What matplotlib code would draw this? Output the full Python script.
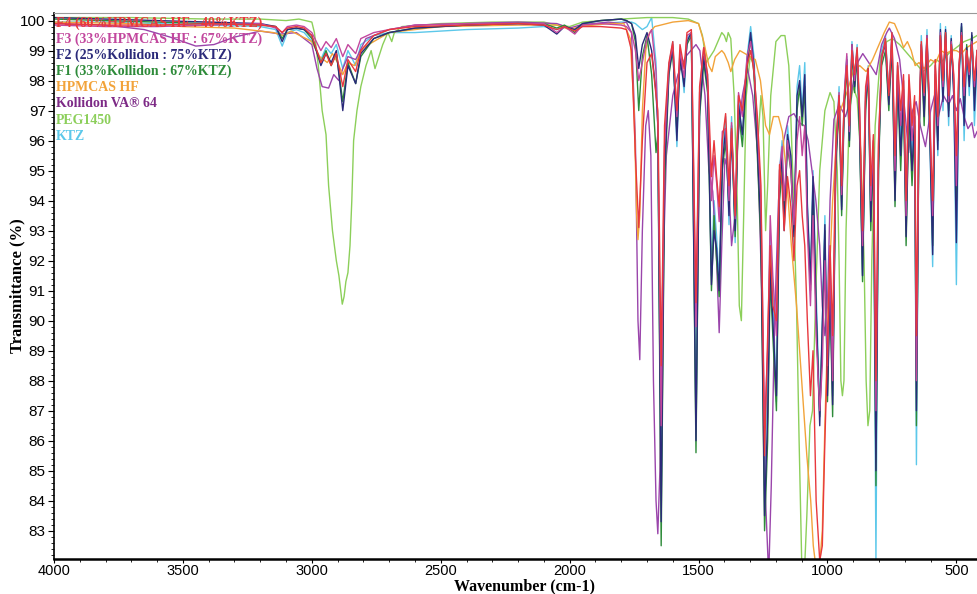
import matplotlib
matplotlib.use('Agg')
import matplotlib.pyplot as plt
from matplotlib.ticker import MultipleLocator

# wavenumber grid shared by KTZ and the four formulations
wn = [4000, 3800, 3600, 3400, 3200, 3140, 3115, 3095, 3060, 3030, 3000, 2965, 2945, 2925, 2905,
      2880, 2860, 2830, 2810, 2760, 2700, 2600, 2400, 2200, 2100, 2050, 2020, 1980, 1950, 1880,
      1800, 1780, 1760, 1745, 1732, 1718, 1700, 1682, 1665, 1658, 1645, 1632, 1615, 1600, 1584,
      1572, 1556, 1545, 1528, 1510, 1496, 1480, 1465, 1450, 1440, 1430, 1420, 1408, 1395, 1382,
      1372, 1358, 1345, 1330, 1312, 1298, 1285, 1272, 1258, 1244, 1232, 1222, 1212, 1198, 1186,
      1176, 1168, 1155, 1142, 1130, 1118, 1108, 1098, 1088, 1078, 1066, 1056, 1044, 1030, 1020,
      1010, 1000, 990, 980, 968, 955, 945, 935, 925, 915, 905, 895, 885, 875, 864,
      852, 842, 832, 822, 812, 802, 790, 775, 762, 750, 738, 728, 716, 705, 695,
      684, 672, 662, 655, 646, 636, 625, 614, 603, 592, 582, 572, 562, 552, 542,
      530, 520, 510, 500, 490, 480, 470, 460, 450, 440, 430, 420]

ktz = [99.95, 99.95, 99.9, 99.85, 99.8, 99.7, 99.15, 99.6, 99.7, 99.6, 99.3, 98.7, 99.1, 98.9, 99.2,
       98.4, 99.0, 98.5, 99.2, 99.5, 99.6, 99.6, 99.7, 99.75, 99.8, 99.7, 99.8, 99.7, 99.9, 99.9,
       99.95, 99.95, 99.95, 99.9, 99.8, 99.7, 99.8, 100.1, 98.6, 96.5, 84.0, 95.5, 98.5, 99.3, 95.8,
       99.0, 97.6, 99.4, 99.6, 86.5, 97.3, 99.0, 98.2, 91.5, 94.0, 92.8, 91.3, 95.5, 96.8, 93.2,
       96.8, 92.6, 97.5, 96.0, 98.8, 99.8, 98.8, 96.0, 93.5, 84.5, 88.5, 93.0, 91.0, 87.3, 95.0,
       96.0, 93.2, 96.5, 95.3, 92.5, 97.8, 98.5, 97.0, 98.6, 94.0, 91.5, 95.0, 91.0, 87.0, 90.0,
       93.5, 88.0, 91.5, 87.5, 95.5, 97.8, 93.8, 97.5, 98.8, 96.0, 99.3, 98.0, 99.2, 96.5, 91.5,
       97.5, 98.5, 93.5, 96.0, 82.0, 95.5, 99.0, 99.5, 97.5, 99.6, 94.5, 98.5, 96.0, 98.0, 93.0,
       97.8, 95.5, 97.0, 85.2, 96.0, 99.5, 97.0, 99.7, 96.0, 91.8, 98.5, 95.5, 99.9, 97.0, 99.8,
       96.5, 99.5, 97.5, 91.2, 98.0, 99.9, 96.0, 99.0, 97.5, 99.5, 96.5, 98.5]

f1 = [100.05, 100.0, 99.95, 99.9, 99.85, 99.8, 99.4, 99.7, 99.75, 99.7, 99.4, 98.6, 99.0, 98.5, 98.9,
      97.3, 98.6, 97.9, 98.8, 99.4, 99.6, 99.75, 99.85, 99.9, 99.9, 99.75, 99.85, 99.6, 99.9, 100.0,
      100.05, 100.0, 99.9, 99.3, 97.0, 98.8, 99.5, 98.2, 95.6, 96.2, 82.5, 94.5, 98.2, 99.0, 96.3,
      98.7, 98.0, 99.2, 99.5, 85.6, 96.8, 98.6, 97.6, 91.0, 93.5, 92.0, 90.8, 95.0, 96.0, 93.8,
      96.5, 92.8, 97.0, 95.8, 98.4, 99.4, 98.2, 95.5, 92.5, 83.0, 86.0, 91.5, 89.5, 87.0, 94.0,
      95.0, 93.5, 95.8, 95.0, 93.0, 97.0, 97.8, 96.5, 97.8, 93.5, 91.0, 94.5, 90.2, 86.8, 89.5,
      93.0, 87.3, 91.0, 86.8, 95.0, 97.2, 93.5, 97.0, 98.5, 95.8, 99.0, 97.6, 98.8, 96.0, 91.3,
      97.0, 98.2, 93.0, 95.5, 84.5, 95.0, 98.5, 99.0, 97.0, 99.2, 93.8, 98.0, 95.0, 97.5, 92.5,
      97.0, 94.5, 96.5, 86.5, 95.5, 99.0, 96.5, 99.3, 96.5, 92.5, 98.0, 96.0, 99.5, 97.5, 99.6,
      97.0, 99.3, 97.8, 94.0, 98.3, 99.8, 97.0, 99.2, 98.0, 99.5, 97.5, 99.0]

f2 = [100.1, 100.05, 100.0, 99.95, 99.9, 99.8, 99.3, 99.7, 99.75, 99.7, 99.5, 98.5, 98.9, 98.6, 99.0,
      97.0, 98.5, 97.9, 98.9, 99.4, 99.6, 99.75, 99.85, 99.9, 99.85, 99.55, 99.8, 99.7, 99.9, 100.0,
      100.05, 100.0, 99.9, 99.5, 98.4, 99.2, 99.6, 99.0, 97.6, 96.5, 83.3, 95.0, 98.3, 99.1, 96.0,
      98.8, 97.8, 99.3, 99.6, 86.0, 97.0, 98.8, 97.8, 91.2, 93.0, 92.4, 91.0, 95.2, 96.4, 93.5,
      96.3, 93.0, 97.2, 96.2, 98.6, 99.6, 98.5, 95.8, 93.0, 83.5, 86.8, 92.0, 90.0, 87.5, 94.5,
      95.5, 93.0, 96.2, 95.5, 92.8, 97.5, 98.0, 96.8, 98.2, 93.8, 91.2, 94.8, 90.5, 86.5, 89.8,
      93.2, 87.5, 91.2, 87.2, 95.2, 97.5, 93.7, 97.3, 98.7, 96.0, 99.2, 97.8, 99.0, 96.3, 91.5,
      97.3, 98.4, 93.3, 95.8, 85.0, 95.2, 98.8, 99.2, 97.2, 99.4, 94.0, 98.2, 95.5, 97.7, 92.8,
      97.3, 95.0, 96.8, 87.0, 95.7, 99.2, 96.8, 99.5, 96.2, 92.2, 98.2, 95.7, 99.7, 97.3, 99.7,
      96.8, 99.4, 97.5, 92.6, 98.1, 99.9, 96.5, 99.1, 97.8, 99.6, 97.0, 98.8]

f3 = [99.85, 99.8, 99.8, 99.85, 99.9, 99.75, 99.6, 99.8, 99.85, 99.8, 99.6, 99.0, 99.3, 99.1, 99.4,
      98.8, 99.2, 98.9, 99.4, 99.6, 99.7, 99.85, 99.9, 99.9, 99.9, 99.6, 99.8, 99.55, 99.85, 99.9,
      99.85, 99.8, 99.6, 99.0, 98.0, 98.6, 99.4, 99.7, 98.3, 96.5, 86.5, 95.8, 98.5, 99.2, 96.8,
      99.0, 98.1, 99.5, 99.6, 89.8, 97.6, 99.1, 98.0, 94.0, 95.5, 94.6, 93.3, 96.3, 96.4, 94.0,
      96.6, 93.4, 97.6, 96.8, 98.8, 99.3, 98.4, 96.5, 94.0, 86.5, 89.0, 93.5, 91.5, 89.5, 95.0,
      95.8, 94.0, 96.0, 95.0, 93.2, 96.0, 96.8, 95.5, 96.5, 93.0, 90.5, 93.5, 89.5, 87.0, 88.5,
      92.0, 88.5, 92.0, 88.0, 95.5, 97.6, 94.2, 97.5, 98.9, 96.3, 99.2, 98.0, 99.0, 96.8, 92.5,
      97.6, 98.2, 94.0, 96.0, 87.0, 95.8, 98.8, 99.3, 97.6, 99.5, 95.0, 98.5, 96.5, 98.0, 93.5,
      98.0, 96.0, 97.2, 88.0, 96.0, 99.2, 97.5, 99.5, 97.0, 93.5, 98.5, 96.5, 99.6, 97.8, 99.5,
      97.3, 99.3, 98.0, 94.5, 98.5, 99.6, 97.5, 99.0, 98.2, 99.3, 97.8, 99.0]

f4 = [99.9, 99.85, 99.85, 99.9, 99.85, 99.8, 99.6, 99.75, 99.8, 99.75, 99.5, 98.6, 98.9, 98.5, 98.9,
      97.8, 98.7, 98.3, 99.0, 99.5, 99.7, 99.8, 99.85, 99.9, 99.85, 99.7, 99.8, 99.65, 99.8, 99.8,
      99.75, 99.7, 99.0, 95.5, 93.1, 96.0, 98.6, 98.9, 97.5, 97.0, 88.5, 96.5, 98.6, 99.3, 97.0,
      99.2, 98.4, 99.6, 99.7, 90.6, 97.8, 99.1, 98.2, 94.8, 96.0, 94.8, 93.8, 96.0, 96.9, 94.5,
      96.4, 93.5, 97.5, 97.0, 98.5, 99.0, 98.3, 96.8, 94.5, 85.5, 89.5, 92.5, 90.5, 90.0, 95.2,
      94.5, 93.0, 94.8, 93.8, 92.0, 94.5, 95.0, 93.5, 92.5, 90.0, 87.5, 89.0, 84.0, 82.0, 82.5,
      86.0, 89.0, 92.5, 89.5, 95.8, 97.5, 94.5, 97.4, 98.5, 96.5, 99.0, 98.2, 99.1, 97.0, 93.0,
      97.8, 98.4, 94.5, 96.2, 88.0, 96.0, 98.7, 99.4, 97.5, 99.6, 95.5, 98.6, 97.0, 98.2, 94.0,
      98.2, 96.5, 97.5, 89.5, 96.5, 99.3, 97.6, 99.4, 96.5, 94.0, 98.7, 96.8, 99.5, 98.0, 99.6,
      97.5, 99.2, 98.2, 95.5, 98.5, 99.5, 97.8, 99.0, 98.3, 99.2, 98.0, 99.0]

# Kollidon VA 64
kol_wn = [4000, 3800, 3650, 3550, 3450, 3380, 3300, 3200, 3120, 3060, 3000, 2980, 2960, 2935, 2915,
          2895, 2880, 2860, 2830, 2790, 2700, 2600, 2400, 2200, 2050, 2000, 1960, 1850, 1800, 1780,
          1760, 1745, 1735, 1728, 1718, 1705, 1695, 1685, 1675, 1665, 1658, 1650, 1640, 1625, 1600,
          1580, 1550, 1510, 1495, 1475, 1460, 1445, 1430, 1420, 1410, 1398, 1385, 1372, 1360, 1348,
          1330, 1310, 1290, 1270, 1255, 1240, 1228, 1218, 1205, 1190, 1170, 1150, 1130, 1110, 1090,
          1075, 1060, 1045, 1030, 1020, 1010, 1000, 990, 975, 955, 930, 910, 890, 863, 840,
          811, 790, 770, 760, 740, 720, 700, 685, 670, 656, 640, 620, 600, 585, 570,
          550, 530, 515, 500, 485, 470, 455, 440, 430, 420]
kol = [99.9, 99.85, 99.7, 99.45, 99.15, 99.2, 99.45, 99.65, 99.55, 99.6, 99.2, 98.4, 97.8, 97.75, 98.2,
       98.0, 98.4, 98.8, 98.7, 99.4, 99.7, 99.85, 99.9, 99.95, 99.9, 99.75, 99.85, 99.95, 99.9, 99.95,
       99.6, 96.0, 90.0, 88.7, 93.0, 96.5, 97.0, 95.5, 88.0, 84.0, 82.9, 85.0, 91.0, 95.5, 97.5,
       98.2, 98.8, 99.2, 99.0, 97.5, 95.0, 94.3, 92.0, 89.6, 92.5, 95.4, 95.0, 92.5, 93.4, 96.0,
       97.5, 98.4, 97.5, 95.5, 91.0, 84.0, 81.5, 84.5, 90.0, 94.0, 96.0, 96.8, 96.9, 96.6, 96.5,
       96.0, 95.0, 94.0, 92.5, 90.5, 89.5, 90.5, 94.0, 96.7, 97.2, 96.8, 97.4, 98.5, 98.9, 98.6,
       98.2, 99.2, 99.6, 99.75, 99.4, 98.7, 97.0, 95.6, 97.0, 97.3, 96.5, 95.8, 97.0, 97.5, 96.8,
       97.5, 97.2, 97.5, 97.0, 97.4, 96.8, 96.4, 96.6, 96.1, 96.3]

# HPMCAS HF
hpm_wn = [4000, 3700, 3500, 3300, 3150, 3110, 3080, 3000, 2970, 2940, 2920, 2900, 2880, 2860, 2835,
          2800, 2700, 2500, 2200, 2050, 2000, 1960, 1850, 1790, 1765, 1750, 1740, 1735, 1728, 1718,
          1705, 1690, 1670, 1600, 1540, 1500, 1480, 1460, 1448, 1435, 1410, 1400, 1385, 1375, 1360,
          1340, 1320, 1300, 1280, 1260, 1240, 1225, 1210, 1190, 1175, 1160, 1140, 1120, 1100, 1080,
          1065, 1055, 1045, 1030, 1020, 1010, 995, 980, 965, 950, 925, 900, 875, 850, 825,
          800, 780, 760, 740, 720, 705, 690, 675, 660, 645, 625, 600, 580, 560, 540,
          520, 500, 480, 460, 440, 420]
hpm = [99.95, 99.9, 99.8, 99.75, 99.6, 99.5, 99.65, 99.3, 98.8, 98.6, 98.9, 98.6, 98.2, 98.6, 98.5,
       99.1, 99.6, 99.8, 99.85, 99.85, 99.7, 99.8, 99.9, 99.9, 99.4, 97.0, 93.5, 92.7, 93.5, 97.0,
       99.0, 99.6, 99.8, 99.95, 100.0, 99.9, 99.3, 98.5, 98.3, 98.8, 99.0, 98.9, 98.6, 98.3, 98.7,
       99.0, 98.9, 98.8, 98.7, 98.0, 96.5, 96.2, 96.8, 96.8, 96.3, 95.0, 92.5, 90.5, 88.0, 85.5,
       84.0, 82.5, 81.8, 81.9, 83.0, 86.5, 91.0, 94.0, 96.0, 97.0, 97.6, 98.3, 98.5, 98.3, 98.7,
       99.2, 99.6, 99.95, 99.9, 99.5, 99.1, 99.3, 99.0, 98.5, 98.6, 98.4, 98.7, 98.6, 99.0, 98.9,
       99.0, 99.0, 98.9, 99.1, 99.2, 99.3]

# PEG1450
peg_wn = [4000, 3700, 3400, 3200, 3100, 3050, 3000, 2990, 2975, 2960, 2945, 2935, 2920, 2905, 2895,
          2888, 2882, 2875, 2868, 2860, 2852, 2845, 2838, 2825, 2810, 2790, 2770, 2755, 2740, 2725,
          2705, 2690, 2680, 2650, 2500, 2300, 2100, 2050, 2000, 1950, 1800, 1700, 1600, 1540, 1500,
          1485, 1470, 1455, 1440, 1420, 1410, 1400, 1392, 1385, 1375, 1362, 1350, 1342, 1334, 1325,
          1315, 1300, 1285, 1275, 1268, 1258, 1250, 1240, 1232, 1220, 1200, 1180, 1165, 1150, 1145,
          1135, 1120, 1110, 1100, 1090, 1080, 1068, 1058, 1045, 1030, 1010, 990, 975, 962, 955,
          948, 942, 936, 928, 915, 900, 885, 870, 858, 850, 843, 836, 828, 815, 795,
          770, 748, 720, 690, 660, 630, 600, 580, 560, 530, 500, 470, 440, 420]
peg = [100.1, 100.1, 100.05, 100.05, 100.0, 100.05, 99.95, 99.6, 98.5, 97.0, 96.2, 94.5, 93.0, 92.0, 91.5,
       91.0, 90.55, 90.8, 91.3, 91.6, 92.5, 94.0, 96.0, 97.0, 97.8, 98.5, 99.0, 98.4, 98.8, 99.2,
       99.6, 99.3, 99.6, 99.8, 99.9, 99.95, 99.95, 99.85, 99.8, 99.95, 100.05, 100.1, 100.1, 100.05, 99.9,
       99.5, 98.6, 98.8, 99.0, 99.4, 99.6, 99.5, 99.3, 99.6, 99.4, 97.5, 94.0, 90.5, 90.0, 93.5,
       97.5, 98.8, 98.5, 96.5, 96.2, 97.5, 96.8, 93.0, 94.5, 97.5, 99.3, 99.5, 99.5, 98.5, 97.5,
       95.0, 90.5, 86.0, 82.0, 81.5, 83.5, 86.5, 87.0, 91.0, 95.0, 97.0, 97.6, 97.3, 95.0, 92.0,
       88.0, 87.5, 88.0, 93.0, 97.0, 97.8, 97.4, 95.5, 92.0, 88.0, 86.5, 87.0, 92.0, 96.5, 98.8,
       99.3, 99.4, 99.2, 98.9, 98.6, 98.3, 98.5, 98.7, 98.6, 98.9, 99.1, 99.3, 99.4, 99.5]

labels = ['F4 (60%HPMCAS HF : 40%KTZ)', 'F3 (33%HPMCAS HF : 67%KTZ)',
          'F2 (25%Kollidon : 75%KTZ)', 'F1 (33%Kollidon : 67%KTZ)',
          'HPMCAS HF', 'Kollidon VA\u00ae 64', 'PEG1450', 'KTZ']
colors = ['#e8383d', '#c2479e', '#2b2a7a', '#2e8b3a', '#f2a33a', '#7d2a86', '#8ccf5a', '#5cc8ea']

fig = plt.figure(figsize=(9.77, 5.94), dpi=100)
ax = fig.add_axes([0.0553, 0.0595, 0.9447, 0.9185])

lw = 1.0
ax.plot(wn, ktz, color=colors[7], lw=lw)
ax.plot(peg_wn, peg, color=colors[6], lw=lw)
ax.plot(kol_wn, kol, color='#9a45ab', lw=lw)
ax.plot(hpm_wn, hpm, color=colors[4], lw=lw)
ax.plot(wn, f1, color=colors[3], lw=lw)
ax.plot(wn, f2, color=colors[2], lw=lw)
ax.plot(wn, f3, color=colors[1], lw=lw)
ax.plot(wn, f4, color=colors[0], lw=lw)

ax.set_xlim(4000, 420)
ax.set_ylim(82.07, 100.25)

ax.xaxis.set_major_locator(MultipleLocator(500))
ax.xaxis.set_minor_locator(MultipleLocator(100))
ax.yaxis.set_major_locator(MultipleLocator(1))
ax.yaxis.set_minor_locator(MultipleLocator(0.2))
ax.tick_params(which='major', direction='out', length=4, width=0.8, labelsize=11, pad=2)
ax.tick_params(which='minor', direction='out', length=2, width=0.6)
ax.tick_params(axis='x', which='major', length=3, labelsize=10.5, pad=0.5)
for lab in ax.get_xticklabels() + ax.get_yticklabels():
    lab.set_family('Liberation Sans')

ax.spines['right'].set_visible(False)
ax.spines['top'].set_color('#999999')
ax.spines['left'].set_linewidth(1.2)
ax.spines['bottom'].set_linewidth(1.8)

# coloured labels stacked in the upper left instead of a legend box
for i, (lab, c) in enumerate(zip(labels, colors)):
    ax.text(0.002, 0.982 - i * 0.0297, lab, transform=ax.transAxes, color=c,
            fontsize=10, fontweight='bold', family='Liberation Serif', va='center', ha='left')

ax.set_xlabel('Wavenumber (cm-1)', fontsize=11.5, fontweight='bold', family='Liberation Serif')
ax.xaxis.set_label_coords(0.51, -0.036)
ax.set_ylabel('Transmittance (%)', fontsize=12, fontweight='bold', family='Liberation Serif')
ax.yaxis.set_label_coords(-0.031, 0.5)

fig.savefig('out.png', dpi=100)
